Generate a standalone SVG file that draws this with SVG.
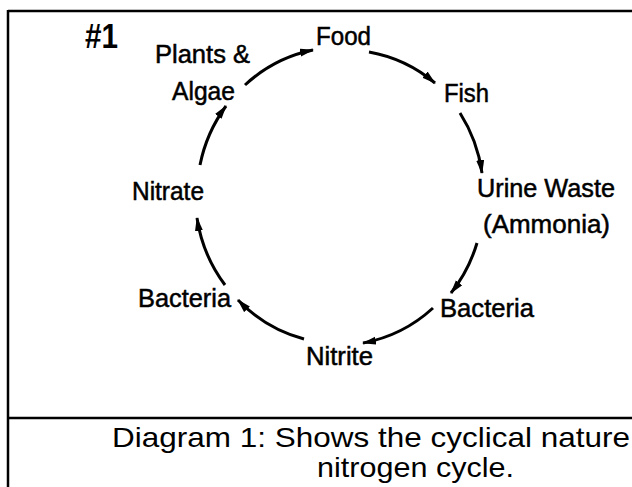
<svg xmlns="http://www.w3.org/2000/svg" width="632" height="487" viewBox="0 0 632 487">
<style>
.lbl{font-family:"Liberation Sans",Arial,sans-serif;font-size:25px;fill:#000;stroke:#000;stroke-width:0.5;}
.num{font-family:"Liberation Sans",Arial,sans-serif;font-size:35px;font-weight:bold;fill:#000;}
.cap{font-family:"Liberation Sans",Arial,sans-serif;font-size:28px;fill:#000;}
.arc{fill:none;stroke:#000;stroke-width:3;marker-end:url(#ah);}
.frame{stroke:#000;stroke-width:2.5;fill:none;}
</style>
<defs>
<marker id="ah" markerUnits="userSpaceOnUse" markerWidth="15" markerHeight="9" refX="13" refY="4" orient="auto">
<path d="M0,0 L14,4 L0,8 z" fill="#000"/>
</marker>
</defs>
<rect width="632" height="487" fill="#fff"/>
<g id="frame">
<line class="frame" x1="8" y1="11" x2="632" y2="11"/>
<line class="frame" x1="8" y1="10" x2="8" y2="487"/>
<line class="frame" x1="8" y1="418" x2="632" y2="418"/>
</g>
<g id="title"><text class="num" x="85" y="48" textLength="33" lengthAdjust="spacingAndGlyphs">#1</text></g>
<g id="plants"><text class="lbl" x="155" y="63" textLength="95" lengthAdjust="spacingAndGlyphs">Plants &amp;</text><text class="lbl" x="172" y="100" textLength="63" lengthAdjust="spacingAndGlyphs">Algae</text></g>
<g id="food"><text class="lbl" x="316" y="45" textLength="55" lengthAdjust="spacingAndGlyphs">Food</text></g>
<g id="fish"><text class="lbl" x="444" y="102" textLength="45" lengthAdjust="spacingAndGlyphs">Fish</text></g>
<g id="urine"><text class="lbl" x="477" y="197" textLength="138" lengthAdjust="spacingAndGlyphs">Urine Waste</text><text class="lbl" x="483" y="233" textLength="127" lengthAdjust="spacingAndGlyphs">(Ammonia)</text></g>
<g id="bacteria1"><text class="lbl" x="440" y="317" textLength="94" lengthAdjust="spacingAndGlyphs">Bacteria</text></g>
<g id="nitrite"><text class="lbl" x="306" y="365" textLength="67" lengthAdjust="spacingAndGlyphs">Nitrite</text></g>
<g id="bacteria2"><text class="lbl" x="138" y="307" textLength="93" lengthAdjust="spacingAndGlyphs">Bacteria</text></g>
<g id="nitrate"><text class="lbl" x="132" y="200" textLength="72" lengthAdjust="spacingAndGlyphs">Nitrate</text></g>
<g id="connectors">
<path class="arc" d="M245,85 A143,147 0 0 1 313,50"/>
<path class="arc" d="M369,52 A143,147 0 0 1 435,83"/>
<path class="arc" d="M460,113 A143,147 0 0 1 482,173"/>
<path class="arc" d="M477,243 A143,147 0 0 1 451,293"/>
<path class="arc" d="M433,308 A143,147 0 0 1 363,343"/>
<path class="arc" d="M304,339 A143,147 0 0 1 238,300"/>
<path class="arc" d="M225,285 A143,147 0 0 1 197,218"/>
<path class="arc" d="M200,165 A143,147 0 0 1 226,106"/>
</g>
<g id="caption">
<text class="cap" x="112" y="447" textLength="518" lengthAdjust="spacingAndGlyphs">Diagram 1: Shows the cyclical nature</text>
<text class="cap" x="317" y="477" textLength="197" lengthAdjust="spacingAndGlyphs">nitrogen cycle.</text>
</g>
</svg>
